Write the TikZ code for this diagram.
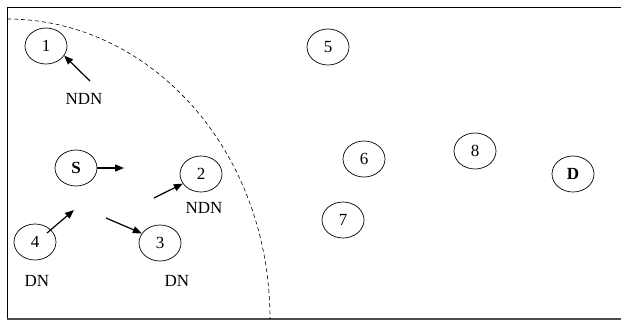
\documentclass[tikz,border=0pt]{standalone}
\usepackage{fontspec}
\setmainfont{Liberation Serif}
\usetikzlibrary{shapes.geometric,arrows.meta}
\begin{document}
\begin{tikzpicture}[x=1pt,y=-1pt,
  nodebox/.style={draw,ellipse,minimum width=42pt,minimum height=36pt,inner sep=0pt,line width=0.7pt,font=\fontsize{17}{20}\selectfont},
  lbl/.style={font=\fontsize{17}{20}\selectfont,inner sep=0pt},
  arr/.style={line width=1.2pt,-{Triangle[length=9pt,width=7pt]}}]
\useasboundingbox (0,0) rectangle (621,322);
% frame
\draw[line width=0.9pt] (621,7) -- (7,7) -- (7,319);
\draw[line width=1.1pt,black!70] (7,319) -- (621,319);
% coverage boundary
\draw[dashed,line width=0.6pt,dash pattern=on 4pt off 3pt] (7,19) .. controls (150,19) and (270,150) .. (270,319);
% nodes
\node[nodebox] (n1) at (46,46) {1};
\node[nodebox] (s) at (76,168) {\bfseries S};
\node[nodebox] (n2) at (201,174) {2};
\node[nodebox] (n3) at (160,243) {3};
\node[nodebox] (n4) at (35,242) {4};
\node[nodebox] (n5) at (328,47) {5};
\node[nodebox] (n6) at (364,159) {6};
\node[nodebox] (n7) at (343,220) {7};
\node[nodebox] (n8) at (475,151) {8};
\node[nodebox] (d) at (573,174) {\bfseries D};
% labels
\node[lbl] (l1) at (84,99) {NDN};
\node[lbl] (l2) at (204,208) {NDN};
\node[lbl] (l4) at (37,281) {DN};
\node[lbl] (l3) at (177,281) {DN};
% arrow ends
\coordinate (t1) at (90,81);
\coordinate (hs) at (124,168);
\coordinate (t2) at (154,198);
\coordinate (t3) at (106,218);
\coordinate (t4) at (47,233);
\coordinate (h4) at (74,210);
% arrows
\draw[arr] (t1) -- (n1.-28);
\draw[arr] (s.east) -- (hs);
\draw[arr] (t2) -- (n2.208);
\draw[arr] (t3) -- (n3.152);
\draw[arr] (t4) -- (h4);
\end{tikzpicture}
\end{document}
